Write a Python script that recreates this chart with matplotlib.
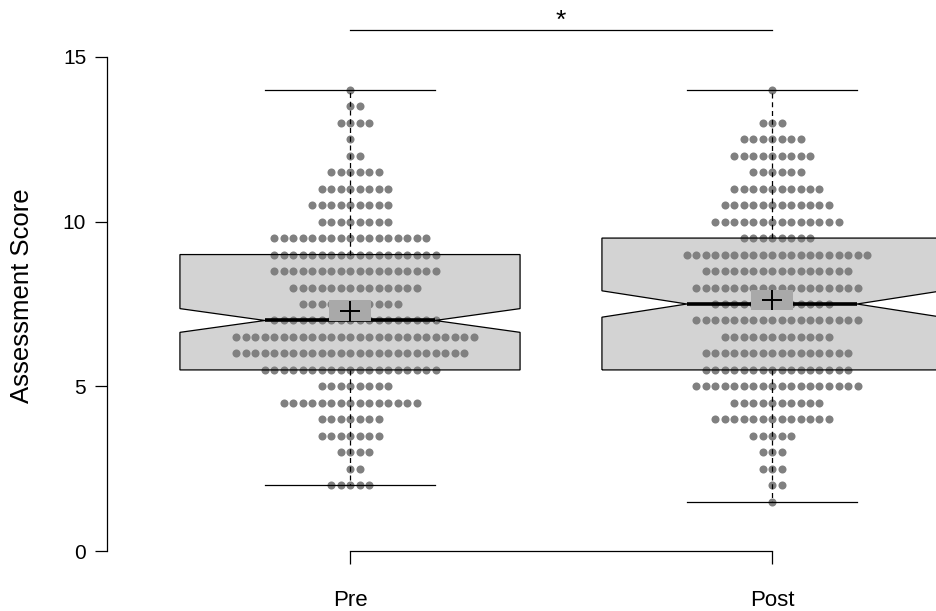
import numpy as np
import matplotlib.pyplot as plt
from matplotlib.patches import Polygon, Rectangle

plt.rcParams['font.family'] = ['Liberation Sans', 'DejaVu Sans']

# data
groups = ['Pre', 'Post']
scores = [1.5, 2.0, 2.5, 3.0, 3.5, 4.0, 4.5, 5.0, 5.5, 6.0, 6.5, 7.0, 7.5,
          8.0, 8.5, 9.0, 9.5, 10.0, 10.5, 11.0, 11.5, 12.0, 12.5, 13.0, 13.5, 14.0]
pre_counts = [0, 5, 2, 4, 7, 7, 15, 8, 19, 25, 26, 18, 11,
              14, 18, 18, 17, 8, 9, 8, 6, 2, 1, 4, 2, 1]
post_counts = [1, 2, 3, 3, 5, 13, 10, 18, 16, 16, 12, 18, 13,
               18, 16, 20, 8, 14, 12, 10, 6, 9, 7, 3, 0, 1]

q1 = [5.5, 5.5]
median = [7.0, 7.5]
q3 = [9.0, 9.5]
whisk_lo = [2.0, 1.5]
whisk_hi = [14.0, 14.0]
notch_lo = [6.64, 7.1]
notch_hi = [7.36, 7.9]
means = [7.3, 7.62]
mean_ci = [0.31, 0.3]

# layout / style
box_half = 0.403
dot_pitch_px = 9.5
box_col = '#d3d3d3'
dot_col = '#808080'
mean_box_col = '#a9a9a9'

fig = plt.figure(figsize=(9.37, 6.11), dpi=100)
ax = fig.add_axes([107 / 937, 40 / 611, 830 / 937, 534 / 611])
xlim = (1 - 243 / 422, 1 + 587 / 422)
ax.set_xlim(xlim)
ax.set_ylim(-0.6, 15.6)
pitch = dot_pitch_px * (xlim[1] - xlim[0]) / 830

for i, counts in enumerate([pre_counts, post_counts]):
    x = i + 1
    w = box_half
    pts = [(x - w, q1[i]), (x + w, q1[i]), (x + w, notch_lo[i]), (x + w / 2, median[i]),
           (x + w, notch_hi[i]), (x + w, q3[i]), (x - w, q3[i]), (x - w, notch_hi[i]),
           (x - w / 2, median[i]), (x - w, notch_lo[i])]
    ax.add_patch(Polygon(pts, closed=True, facecolor=box_col, edgecolor='none', zorder=1))

    # beeswarm rows: centre, right, left, right, ...
    xs, ys = [], []
    for s, n in zip(scores, counts):
        for k in range(n):
            off = (k + 1) // 2 * (1 if k % 2 == 1 else -1)
            xs.append(x + off * pitch)
            ys.append(s)
    ax.plot(xs, ys, 'o', ms=5.8, color=dot_col, mec='none', zorder=2)

    ax.add_patch(Polygon(pts, closed=True, facecolor='none', edgecolor='black', lw=0.9, zorder=3))
    ax.plot([x, x], [q3[i], whisk_hi[i]], color='black', lw=0.9, ls=(0, (4, 3)), zorder=3)
    ax.plot([x, x], [q1[i], whisk_lo[i]], color='black', lw=0.9, ls=(0, (4, 3)), zorder=3)
    for v in (whisk_lo[i], whisk_hi[i]):
        ax.plot([x - w / 2, x + w / 2], [v, v], color='black', lw=0.9, zorder=3)
    ax.plot([x - w / 2, x + w / 2], [median[i], median[i]], color='black', lw=2.6,
            solid_capstyle='butt', zorder=4)

    ax.add_patch(Rectangle((x - 0.05, means[i] - mean_ci[i]), 0.1, 2 * mean_ci[i],
                           facecolor=mean_box_col, edgecolor='none', zorder=5))
    ax.plot(x, means[i], '+', ms=15, mew=1.4, color='black', zorder=6)

# significance bracket
bracket_y = 15.8
ax.plot([1, 2], [bracket_y, bracket_y], color='black', lw=0.9, clip_on=False)
ax.text(1.5, bracket_y + 0.08, '*', ha='center', va='baseline', fontsize=19, clip_on=False)

for side in ('top', 'right'):
    ax.spines[side].set_visible(False)
ax.spines['left'].set_bounds(0, 15)
ax.spines['bottom'].set_bounds(1, 2)
ax.spines['bottom'].set_position(('data', 0))
for side in ('left', 'bottom'):
    ax.spines[side].set_linewidth(0.9)
ax.set_yticks([0, 5, 10, 15])
ax.set_xticks([1, 2], groups)
ax.tick_params(axis='y', length=9, width=0.9, pad=6, labelsize=15)
ax.tick_params(axis='x', length=9, width=0.9, pad=19, labelsize=16)

fig.text(22 / 937, 1 - 296 / 611, 'Assessment Score', rotation=90,
         ha='center', va='center', fontsize=18.5)

fig.savefig('out.png', dpi=100)
